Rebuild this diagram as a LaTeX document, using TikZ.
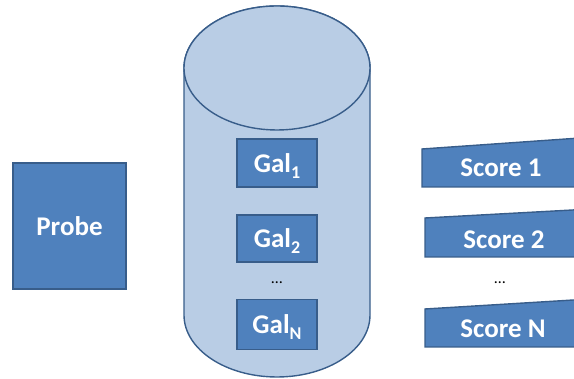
\documentclass[tikz,border=0pt]{standalone}
\usepackage{fontspec}
\setmainfont{Carlito}
\definecolor{boxfill}{HTML}{4F81BD}
\definecolor{boxline}{HTML}{385D8A}
\definecolor{cylfill}{HTML}{B9CDE5}
\newcommand{\galsub}[1]{\raisebox{-6pt}[0pt][0pt]{\fontsize{18}{20}\selectfont #1}}
\begin{document}
\begin{tikzpicture}[x=1pt,y=1pt,
  bluebox/.style={draw=boxline,fill=boxfill,line width=1.4pt,inner sep=0pt,
    text=white,font=\fontsize{27}{30}\selectfont\bfseries},
  lbl/.style={text=white,font=\fontsize{27}{30}\selectfont\bfseries,inner sep=0pt},
  cyl/.style={draw=boxline,fill=cylfill,line width=1.4pt},
  dotsstyle/.style={font=\fontsize{16}{18}\selectfont,inner sep=0pt}]
\useasboundingbox (0,0) rectangle (574,379);
\begin{scope}
\clip (0,0) rectangle (574,379);
% cylinder
\draw[cyl] (184,311) -- (184,64) arc[start angle=180,end angle=360,x radius=93,y radius=62]
  -- (370,311) arc[start angle=0,end angle=180,x radius=93,y radius=62] -- cycle;
\draw[cyl] (277,311) ellipse[x radius=93,y radius=62];
% gallery boxes
\node[bluebox,minimum width=80pt,minimum height=48pt] (g1) at (277,216) {Gal\galsub{1}};
\node[bluebox,minimum width=80pt,minimum height=47pt] (g2) at (277,140.5) {Gal\galsub{2}};
\node[bluebox,minimum width=80pt,minimum height=50pt] (gn) at (277,54.5) {Gal\galsub{N}};
\node[dotsstyle] (gd) at (277,96) {\dots};
% probe
\node[bluebox,minimum width=113pt,minimum height=126pt] (probe) at (69.5,153) {Probe};
% score shapes
\draw[draw=boxline,fill=boxfill,line width=1.4pt] (422,230) -- (580,241) -- (580,192) -- (422,192) -- cycle;
\draw[draw=boxline,fill=boxfill,line width=1.4pt] (425,161) -- (580,169.4) -- (580,122) -- (425,122) -- cycle;
\draw[draw=boxline,fill=boxfill,line width=1.4pt] (425,70) -- (580,79.4) -- (580,32) -- (425,32) -- cycle;
\node[lbl] (s1) at (501,211) {Score 1};
\node[lbl] (s2) at (504,139) {Score 2};
\node[lbl] (sn) at (503,50) {Score N};
\node[dotsstyle] (sd) at (500,96) {\dots};
\end{scope}
\end{tikzpicture}
\end{document}
